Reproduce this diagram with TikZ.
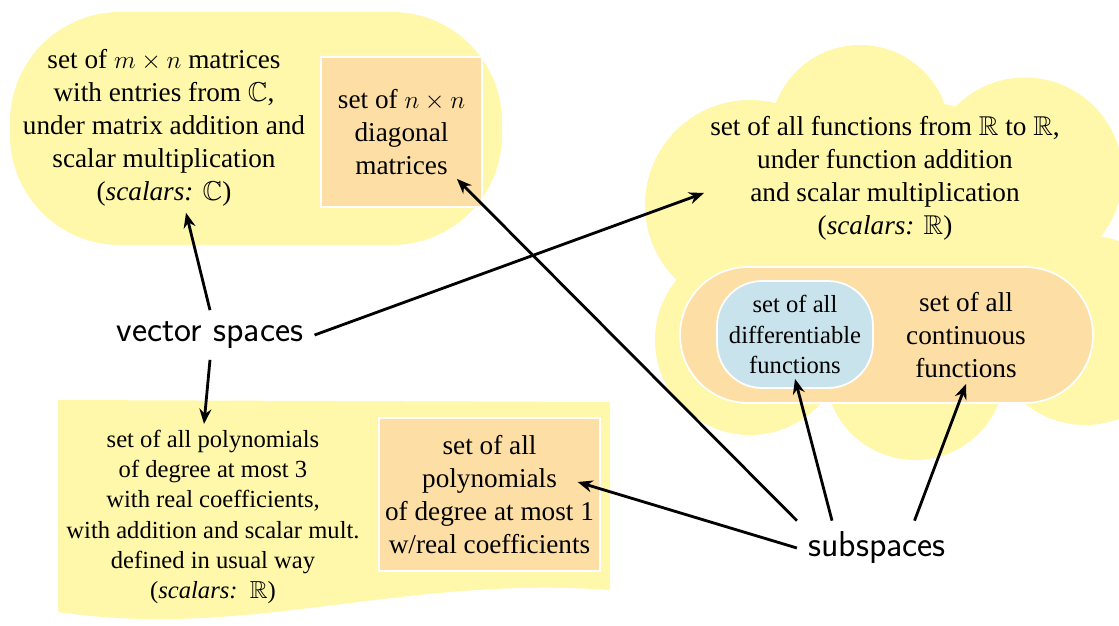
\documentclass[tikz,border=0pt]{standalone}
\usepackage{amssymb}
\usepackage{fontspec}
\setmainfont{Liberation Serif}
\usetikzlibrary{arrows.meta}
\definecolor{vsyellow}{RGB}{255,247,170}
\definecolor{suborange}{RGB}{253,223,165}
\definecolor{subblue}{RGB}{201,227,236}
\tikzset{
    settext/.style={align=center,font=\fontsize{15.5}{18.8}\selectfont},
    smalltext/.style={align=center,font=\fontsize{14}{17.2}\selectfont},
    kindtext/.style={font=\sffamily\fontsize{20.5}{24}\selectfont,inner sep=0.22cm},
    subbox/.style={fill=suborange,draw=white,line width=1pt},
    linkarrow/.style={-{Stealth[length=3mm,width=2.4mm]},line width=1.6pt}
}

\begin{document}
\begin{tikzpicture}
    \useasboundingbox (0,0) rectangle (22.38,12.5);
    \clip (0,0) rectangle (22.38,12.5);
    % yellow regions: the vector spaces
    \fill[vsyellow,rounded corners=2.2cm] (0.2,7.6) rectangle (10.04,12.26);
    \fill[vsyellow] (1.16,4.5) -- (12.2,4.46) -- (12.2,0.7)
        .. controls (8,1.0) and (5,-0.3) .. (1.16,0.26) -- cycle;
    \foreach \x/\y/\r in {17.2/9.8/1.8, 20.5/9.0/1.95, 15/8.4/2.1, 15/5.7/1.9,
                          18.3/5.1/1.8, 21.7/5.9/1.9}
        \fill[vsyellow] (\x,\y) circle [radius=\r];
    \fill[vsyellow] (18,7.5) ellipse [x radius=3.8, y radius=3];

    \node[settext] (mtx) at (3.28,9.94) {set of $m\times n$ matrices\\with entries from $\mathbb{C}$,\\under matrix addition and\\scalar multiplication\\(\emph{scalars:} $\mathbb{C}$)};
    \node[subbox,settext,minimum width=3.22cm,minimum height=3cm] (diag) at (8.03,9.86) {set of $n\times n$\\diagonal\\matrices};
    \node[settext] (funcs) at (17.7,8.94) {set of all functions from $\mathbb{R}$ to $\mathbb{R}$,\\under function addition\\and scalar multiplication\\(\emph{scalars:} $\mathbb{R}$)};
    \node[subbox,rounded corners=1.36cm,minimum width=8.26cm,minimum height=2.72cm] (conts) at (17.73,5.8) {};
    \node[subbox,fill=subblue,smalltext,rounded corners=0.9cm,minimum width=3.12cm,minimum height=2.14cm] (diff) at (15.9,5.81) {set of all\\differentiable\\functions};
    \node[settext] (cont) at (19.32,5.8) {set of all\\continuous\\functions};
    \node[smalltext] (poly3) at (4.26,2.16) {set of all polynomials\\of degree at most 3\\with real coefficients,\\with addition and scalar mult.\\defined in usual way\\(\emph{scalars:}\ \ $\mathbb{R}$)};
    \node[subbox,settext,minimum width=4.34cm,minimum height=3.06cm] (poly1) at (9.79,2.61) {set of all\\polynomials\\of degree at most 1\\w/real coefficients};

    \node[kindtext] (vs) at (4.2,5.8) {vector spaces};
    \node[kindtext] (sub) at (17.54,1.54) {subspaces};

    \draw[linkarrow] (vs.north) -- ([xshift=0.44cm]mtx.south);
    \draw[linkarrow] (vs.south) -- ([xshift=-0.18cm]poly3.north);
    \draw[linkarrow] (vs.east) -- ([yshift=-0.3cm]funcs.west);
    \draw[linkarrow] (sub.north west) -- ([shift={(-0.52,0.58)}]diag.south east);
    \draw[linkarrow] (sub.west) -- ([shift={(-0.46,0.25)}]poly1.east);
    \draw[linkarrow] ([xshift=-0.9cm]sub.north) -- ([yshift=0.2cm]diff.south);
    \draw[linkarrow] ([xshift=0.75cm]sub.north) -- (cont.south);
\end{tikzpicture}
\end{document}
